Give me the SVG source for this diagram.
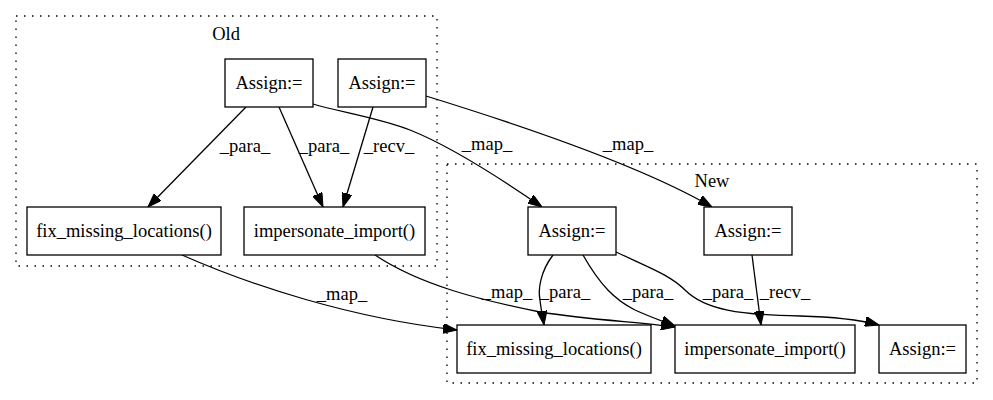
<svg xmlns="http://www.w3.org/2000/svg" width="993" height="400" viewBox="0 0 993 400">
  <defs>
    <marker id="arrow" viewBox="0 0 14 10" refX="14" refY="5" markerWidth="14" markerHeight="10" orient="auto" markerUnits="userSpaceOnUse">
      <path d="M0,0 L14,5 L0,10 z" fill="#000" stroke="#000" stroke-width="1"/>
    </marker>
    <style>
      .cluster { fill: none; stroke: #000; stroke-width: 1.3; stroke-dasharray: 1.5 6.5; }
      .node rect { fill: #fff; stroke: #000; stroke-width: 1.3; }
      .edge { fill: none; stroke: #000; stroke-width: 1.3; marker-end: url(#arrow); }
    </style>
  </defs>
  <rect width="993" height="400" fill="#fff"/>

  <!-- clusters -->
  <g id="cluster_old">
    <rect class="cluster" x="16" y="16" width="421" height="250"/>
    <text font-family="Liberation Serif" font-size="18.5" text-anchor="middle" x="226" y="40">Old</text>
  </g>
  <g id="cluster_new">
    <rect class="cluster" x="447" y="164" width="530" height="219"/>
    <text font-family="Liberation Serif" font-size="18.5" text-anchor="middle" x="712" y="187">New</text>
  </g>

  <!-- connectors -->
  <g id="edges">
    <path class="edge" d="M246,107 L148,207"/>
    <path class="edge" d="M279,107 L323,207"/>
    <path class="edge" d="M373,107 L343,207"/>
    <path class="edge" d="M313,104 C340,112 380,118 410,130 C450,146 500,178 542,207"/>
    <path class="edge" d="M426,96 C520,125 640,165 712,207"/>
    <path class="edge" d="M182,255 C250,285 350,318 457,330"/>
    <path class="edge" d="M375,255 C420,285 480,300 540,312 C590,320 640,322 675,327"/>
    <path class="edge" d="M553,255 C540,272 538,290 540,300 C541,310 543,318 544,325"/>
    <path class="edge" d="M583,255 C600,285 615,300 635,310 C650,317 665,322 675,326"/>
    <path class="edge" d="M616,252 C650,268 670,275 685,290 C705,310 740,315 800,316 C840,317 860,320 879,325"/>
    <path class="edge" d="M752,255 L761,325"/>
    <text font-family="Liberation Serif" font-size="18.5" text-anchor="middle" x="245" y="152">_para_</text>
    <text font-family="Liberation Serif" font-size="18.5" text-anchor="middle" x="324" y="152">_para_</text>
    <text font-family="Liberation Serif" font-size="18.5" text-anchor="middle" x="389" y="152">_recv_</text>
    <text font-family="Liberation Serif" font-size="18.5" text-anchor="middle" x="487" y="150">_map_</text>
    <text font-family="Liberation Serif" font-size="18.5" text-anchor="middle" x="628" y="150">_map_</text>
    <text font-family="Liberation Serif" font-size="18.5" text-anchor="middle" x="342" y="300">_map_</text>
    <text font-family="Liberation Serif" font-size="18.5" text-anchor="middle" x="507" y="298">_map_</text>
    <text font-family="Liberation Serif" font-size="18.5" text-anchor="middle" x="565" y="298">_para_</text>
    <text font-family="Liberation Serif" font-size="18.5" text-anchor="middle" x="648" y="298">_para_</text>
    <text font-family="Liberation Serif" font-size="18.5" text-anchor="middle" x="728" y="298">_para_</text>
    <text font-family="Liberation Serif" font-size="18.5" text-anchor="middle" x="785" y="298">_recv_</text>
  </g>

  <!-- Old nodes -->
  <g id="old_assign_1" class="node">
    <rect x="225" y="59" width="88" height="48"/>
    <text font-family="Liberation Serif" font-size="18.5" text-anchor="middle" x="269" y="89">Assign:=</text>
  </g>
  <g id="old_assign_2" class="node">
    <rect x="338" y="59" width="88" height="48"/>
    <text font-family="Liberation Serif" font-size="18.5" text-anchor="middle" x="382" y="89">Assign:=</text>
  </g>
  <g id="old_fix_missing_locations" class="node">
    <rect x="27" y="207" width="194" height="48"/>
    <text font-family="Liberation Serif" font-size="18.5" text-anchor="middle" x="124" y="237">fix_missing_locations()</text>
  </g>
  <g id="old_impersonate_import" class="node">
    <rect x="244" y="207" width="181" height="48"/>
    <text font-family="Liberation Serif" font-size="18.5" text-anchor="middle" x="334.5" y="237">impersonate_import()</text>
  </g>

  <!-- New nodes -->
  <g id="new_assign_1" class="node">
    <rect x="528" y="207" width="88" height="48"/>
    <text font-family="Liberation Serif" font-size="18.5" text-anchor="middle" x="572" y="237">Assign:=</text>
  </g>
  <g id="new_assign_2" class="node">
    <rect x="704" y="207" width="88" height="48"/>
    <text font-family="Liberation Serif" font-size="18.5" text-anchor="middle" x="748" y="237">Assign:=</text>
  </g>
  <g id="new_fix_missing_locations" class="node">
    <rect x="457" y="325" width="194" height="48"/>
    <text font-family="Liberation Serif" font-size="18.5" text-anchor="middle" x="554" y="355">fix_missing_locations()</text>
  </g>
  <g id="new_impersonate_import" class="node">
    <rect x="675" y="325" width="180" height="48"/>
    <text font-family="Liberation Serif" font-size="18.5" text-anchor="middle" x="765" y="355">impersonate_import()</text>
  </g>
  <g id="new_assign_3" class="node">
    <rect x="879" y="325" width="87" height="48"/>
    <text font-family="Liberation Serif" font-size="18.5" text-anchor="middle" x="922.5" y="355">Assign:=</text>
  </g>
</svg>
